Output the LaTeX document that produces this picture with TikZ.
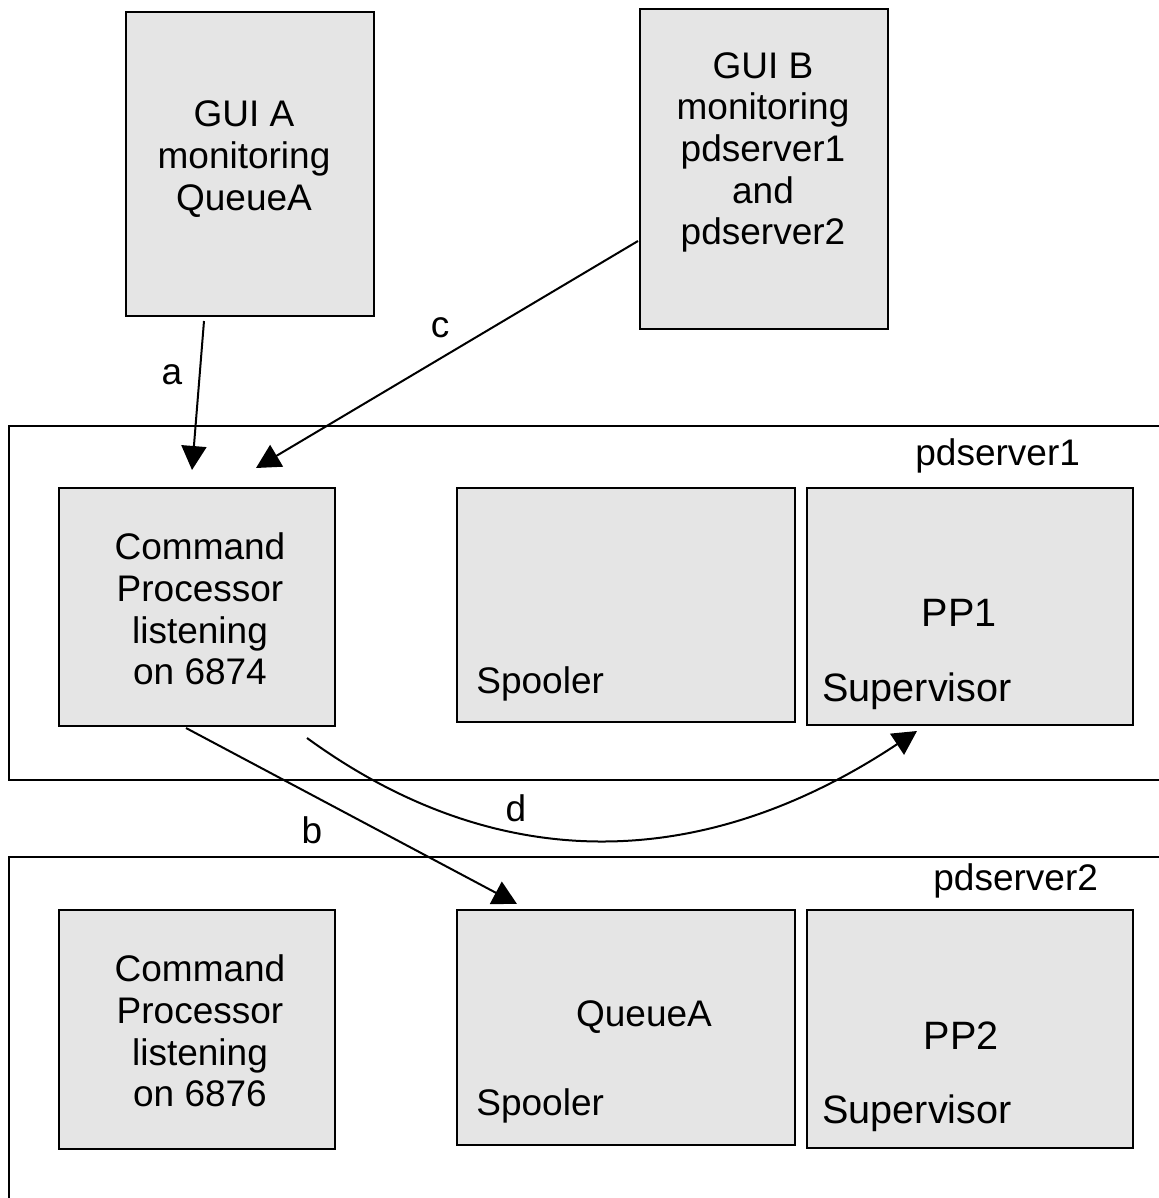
\documentclass[tikz,border=0pt]{standalone}
\usepackage{fontspec}
\setmainfont{Liberation Sans}
\usetikzlibrary{arrows.meta}

\begin{document}
\begin{tikzpicture}[x=0.5pt, y=-0.5pt,
    txt/.style={font=\fontsize{18.5}{20.8}\selectfont, inner sep=0pt, align=center},
    bigtxt/.style={txt, font=\fontsize{19.8}{22}\selectfont},
    box/.style={draw=borderColour, fill=fillColour, line width=1pt, inner sep=0pt},
    frame/.style={draw=borderColour, line width=1pt},
    flow/.style={line width=1pt, -{Triangle[length=12pt, width=12.5pt]}}]
    % Define colours
    \definecolor{borderColour}{HTML}{000000}
    \definecolor{fillColour}{HTML}{E5E5E5}

    % Fix the page size
    \useasboundingbox (0,0) rectangle (1158,1198);

    % Draw server frames (open on the right)
    \draw[frame] (1170,426) -- (9,426) -- (9,780) -- (1170,780);
    \draw[frame] (1170,857) -- (9,857) -- (9,1210);
    \node[txt, anchor=base west] (srv1) at (915,465) {pdserver1};
    \node[txt, anchor=base west] (srv2) at (933,890) {pdserver2};

    % Draw GUI boxes
    \node[box, minimum width=124pt, minimum height=152pt] (guiA) at (250,164) {};
    \node[box, minimum width=124pt, minimum height=160pt] (guiB) at (764,169) {};
    \node[txt] (guiAText) at (244,159) {GUI A\\monitoring\\QueueA};
    \node[txt] (guiBText) at (763,152.5) {GUI B\\monitoring\\pdserver1\\and\\pdserver2};

    % Draw pdserver1 boxes
    \node[box, minimum width=138pt, minimum height=119pt] (cp1) at (197,607) {};
    \node[box, minimum width=169pt, minimum height=117pt] (spool1) at (626,605) {};
    \node[box, minimum width=163pt, minimum height=118.5pt] (sup1) at (970,606.5) {};
    \node[txt] (cp1Text) at (200,609) {Command\\Processor\\listening\\on 6874};
    \node[txt, anchor=base west] (spool1Text) at (476,693) {Spooler};
    \node[bigtxt, anchor=base] (pp1) at (959,626) {PP1};
    \node[bigtxt, anchor=base west] (sup1Text) at (822,701) {Supervisor};

    % Draw pdserver2 boxes
    \node[box, minimum width=138pt, minimum height=119.5pt] (cp2) at (197,1029.5) {};
    \node[box, minimum width=169pt, minimum height=117.5pt] (spool2) at (626,1027.5) {};
    \node[box, minimum width=163pt, minimum height=119pt] (sup2) at (970,1029) {};
    \node[txt] (cp2Text) at (200,1031) {Command\\Processor\\listening\\on 6876};
    \node[txt, anchor=base] (queueA) at (644,1026) {QueueA};
    \node[txt, anchor=base west] (spool2Text) at (476,1115) {Spooler};
    \node[bigtxt, anchor=base] (pp2) at (961,1049) {PP2};
    \node[bigtxt, anchor=base west] (sup2Text) at (822,1123) {Supervisor};

    % Define arrow end points
    \coordinate (aTail) at (204,321);
    \coordinate (aHead) at (192,470);
    \coordinate (cTail) at (638,241);
    \coordinate (cHead) at (256,468);
    \coordinate (bTail) at (186,728);
    \coordinate (bHead) at (517,904);
    \coordinate (dTail) at (307,738);
    \coordinate (dHead) at (917,731);

    % Draw arrows
    \draw[flow] (aTail) -- (aHead);
    \draw[flow] (cTail) -- (cHead);
    \draw[flow] (bTail) -- (bHead);
    \draw[flow] (dTail) .. controls (495,875) and (700,875) .. (dHead);

    % Label arrows
    \node[txt] (labA) at (172,375) {a};
    \node[txt] (labC) at (440,328) {c};
    \node[txt] (labB) at (312,830) {b};
    \node[txt] (labD) at (516,808) {d};

\end{tikzpicture}
\end{document}
